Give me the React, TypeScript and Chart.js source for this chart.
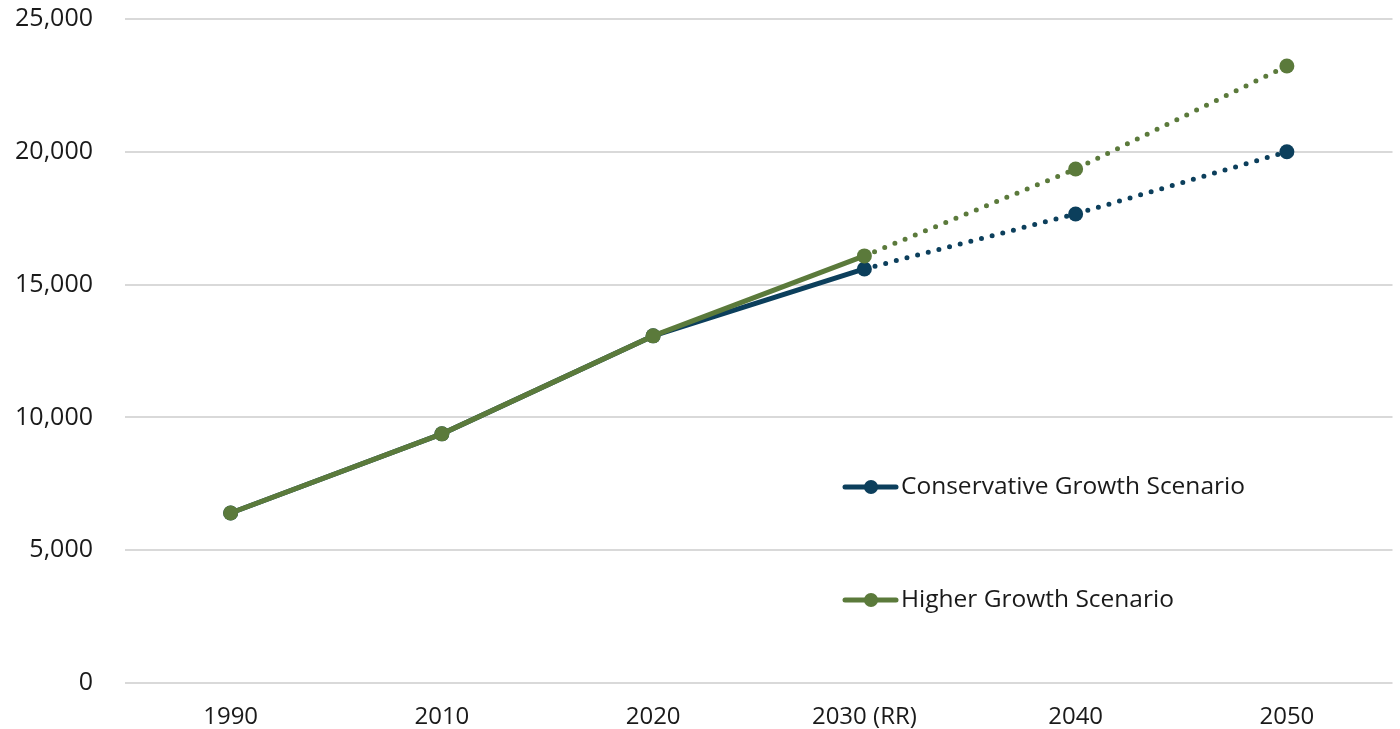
import React, { useEffect, useRef } from "react";
import { Chart, registerables } from "chart.js";

Chart.register(...registerables);

const categories = ["1990", "2010", "2020", "2030 (RR)", "2040", "2050"];
const conservativeValues = [6400, 9380, 13070, 15590, 17660, 20000];
const higherValues = [6400, 9380, 13070, 16080, 19350, 23230];
const yTicks = [0, 5000, 10000, 15000, 20000, 25000];
const seriesNames = ["Conservative Growth Scenario", "Higher Growth Scenario"];

const NAVY = "#0c3f5c";
const GREEN = "#5b7a3b";
// index of the last observed point; segments after it are projections
const LAST_SOLID = 3;

const legendPlugin = {
  id: "insideLegend",
  afterDraw(chart: any) {
    const { ctx } = chart;
    const items = [
      { label: seriesNames[0], color: NAVY, y: 487 },
      { label: seriesNames[1], color: GREEN, y: 600 },
    ];
    ctx.save();
    for (const it of items) {
      ctx.strokeStyle = it.color;
      ctx.lineWidth = 5;
      ctx.lineCap = "round";
      ctx.beginPath();
      ctx.moveTo(845, it.y);
      ctx.lineTo(896, it.y);
      ctx.stroke();
      ctx.fillStyle = it.color;
      ctx.beginPath();
      ctx.arc(871, it.y, 7, 0, Math.PI * 2);
      ctx.fill();
      ctx.fillStyle = "#1a1a1a";
      ctx.font = "24.5px 'Open Sans'";
      ctx.textBaseline = "middle";
      ctx.textAlign = "left";
      ctx.fillText(it.label, 901, it.y);
    }
    ctx.restore();
  },
};

export default function App() {
  const ref = useRef<HTMLCanvasElement>(null);

  useEffect(() => {
    document.body.style.margin = "0";
    const segStyle = {
      borderDash: (c: any) => (c.p0DataIndex >= LAST_SOLID ? [0, 11] : undefined),
    };
    const chart = new Chart(ref.current!, {
      type: "line",
      data: {
        labels: categories,
        datasets: [
          {
            label: seriesNames[0],
            data: conservativeValues,
            borderColor: NAVY,
            backgroundColor: NAVY,
            borderWidth: 5,
            borderCapStyle: "round",
            pointRadius: 7.5,
            pointBackgroundColor: NAVY,
            pointBorderWidth: 0,
            tension: 0,
            order: 1,
            segment: segStyle,
          },
          {
            label: seriesNames[1],
            data: higherValues,
            borderColor: GREEN,
            backgroundColor: GREEN,
            borderWidth: 5,
            borderCapStyle: "round",
            pointRadius: 7.5,
            pointBackgroundColor: GREEN,
            pointBorderWidth: 0,
            tension: 0,
            order: 0,
            segment: segStyle,
          },
        ],
      },
      options: {
        animation: false,
        responsive: false,
        layout: { padding: { top: 19, right: 2, left: 0, bottom: 0 } },
        plugins: { legend: { display: false }, tooltip: { enabled: false } },
        scales: {
          x: {
            offset: true,
            grid: { display: false },
            border: { display: false },
            ticks: {
              color: "#1a1a1a",
              font: { family: "'Open Sans'", size: 24 },
              padding: 12,
              maxRotation: 0,
            },
            afterFit: (s: any) => {
              s.height = 46;
            },
          },
          y: {
            min: 0,
            max: 25000,
            afterBuildTicks: (s: any) => {
              s.ticks = yTicks.map((v) => ({ value: v }));
            },
            grid: { color: "#d9d9d9", lineWidth: 2, drawTicks: false },
            border: { display: false },
            ticks: {
              color: "#1a1a1a",
              font: { family: "'Open Sans'", size: 25 },
              padding: 32,
              callback: (v: any) => Number(v).toLocaleString("en-US"),
            },
            afterFit: (s: any) => {
              s.width = 125;
              s.paddingTop = 0;
              s.paddingBottom = 0;
            },
          },
        },
      },
      plugins: [legendPlugin],
    });
    return () => chart.destroy();
  }, []);

  return (
    <div style={{ position: "absolute", left: 0, top: 0, width: 1400, height: 729 }}>
      <canvas ref={ref} width={1400} height={729} />
    </div>
  );
}
